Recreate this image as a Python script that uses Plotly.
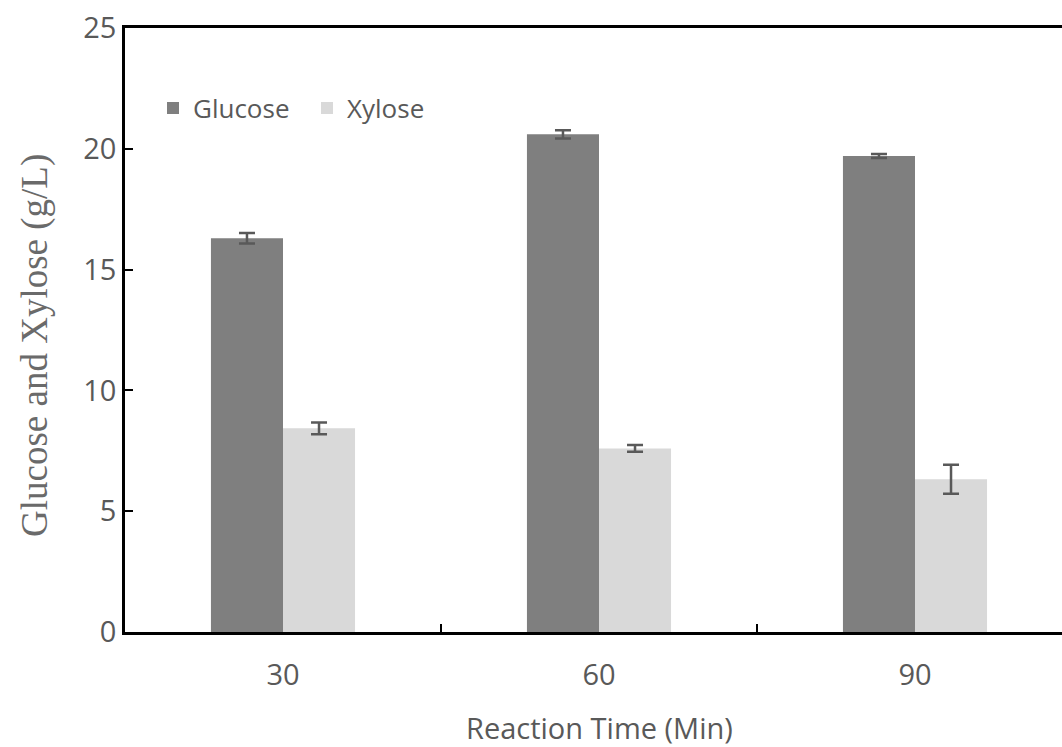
import plotly.graph_objects as go

categories = ["30", "60", "90"]
glucose = [16.3, 20.6, 19.7]
glucose_err = [0.22, 0.17, 0.08]
xylose = [8.43, 7.6, 6.32]
xylose_err = [0.24, 0.14, 0.6]
yticks = [0, 5, 10, 15, 20, 25]

W, H = 1062, 747
ML, MR, MT, MB = 125, 0, 28, 115
plot_w = W - ML - MR
plot_h = H - MT - MB
cat_px = 316.0
xmax = -0.5 + plot_w / cat_px

tick_font = dict(family="Open Sans", size=29, color="#595959")
err_col = "#595959"

fig = go.Figure()
fig.add_trace(go.Bar(
    name="Glucose", x=categories, y=glucose,
    marker=dict(color="#7f7f7f", line=dict(width=0)),
    error_y=dict(type="data", array=glucose_err, color=err_col, thickness=2.5, width=8),
))
fig.add_trace(go.Bar(
    name="Xylose", x=categories, y=xylose,
    marker=dict(color="#d9d9d9", line=dict(width=0)),
    error_y=dict(type="data", array=xylose_err, color=err_col, thickness=2.5, width=8),
))

fig.update_layout(
    width=W, height=H,
    margin=dict(l=ML, r=MR, t=MT, b=MB, pad=0),
    paper_bgcolor="white", plot_bgcolor="white",
    barmode="group", bargap=0.544, bargroupgap=0,
    showlegend=True,
    legend=dict(
        orientation="h", x=(153 - ML) / plot_w, y=1 - (108 - MT) / plot_h,
        xanchor="left", yanchor="middle",
        font=dict(family="Open Sans", size=26, color="#595959"),
        bgcolor="rgba(0,0,0,0)", borderwidth=0,
        entrywidth=109, entrywidthmode="pixels",
    ),
    xaxis=dict(
        type="category", range=[-0.5, xmax],
        showline=True, linecolor="black", linewidth=2.5, mirror=True,
        ticks="inside", tickson="boundaries", ticklen=8, tickwidth=2, tickcolor="black",
        tickfont=tick_font, ticklabelstandoff=15,
        showgrid=False, zeroline=False, fixedrange=True,
    ),
    yaxis=dict(
        range=[0, 25], tickvals=yticks,
        showline=True, linecolor="black", linewidth=2.5, mirror=False,
        ticks="inside", ticklen=8, tickwidth=2, tickcolor="black",
        tickfont=tick_font, ticklabelstandoff=0,
        showgrid=False, zeroline=False, fixedrange=True,
    ),
    annotations=[
        dict(text="Glucose and Xylose (g/L)", textangle=-90,
             xref="paper", yref="paper",
             x=(35 - ML) / plot_w, y=(H - MB - 346) / plot_h,
             xanchor="center", yanchor="middle", showarrow=False,
             font=dict(family="Liberation Serif", size=37, color="#6a6a6a")),
        dict(text="Reaction Time (Min)",
             xref="x", yref="paper", x=1, y=(H - MB - 727) / plot_h,
             xanchor="center", yanchor="middle", showarrow=False,
             font=dict(family="Open Sans", size=29, color="#595959")),
    ],
)

fig.write_html(
    "out.html",
    config={"displayModeBar": False},
    post_script="document.body.style.margin='0';document.body.style.overflow='hidden';",
)
